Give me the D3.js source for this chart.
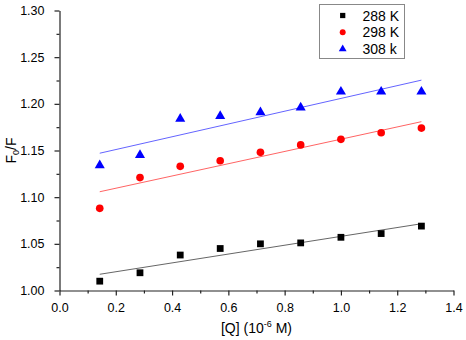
<!DOCTYPE html>
<html>
<head>
<meta charset="utf-8">
<script src="https://cdn.jsdelivr.net/npm/d3@7"></script>
<style>
  html, body { margin: 0; padding: 0; background: #fff; }
  svg { display: block; font-family: "Liberation Sans", Arial, sans-serif; }
</style>
</head>
<body>
<div id="chart"></div>
<script>
/* Stern-Volmer style plot: F0/F vs [Q] at three temperatures,
   points plus least-squares lines. */

var conc = [0.143, 0.286, 0.429, 0.571, 0.714, 0.857, 1.0, 1.143, 1.286];
var f288 = [1.010, 1.019, 1.038, 1.045, 1.050, 1.051, 1.057, 1.061, 1.069];
var f298 = [1.088, 1.121, 1.133, 1.139, 1.148, 1.156, 1.162, 1.169, 1.174];
var f308 = [1.134, 1.145, 1.184, 1.187, 1.191, 1.196, 1.213, 1.213, 1.213];
var seriesNames = ["288 K", "298 K", "308 k"];
var xTicks = [0.0, 0.2, 0.4, 0.6, 0.8, 1.0, 1.2, 1.4];
var yTicks = [1.00, 1.05, 1.10, 1.15, 1.20, 1.25, 1.30];

var W = 466, H = 340;
var svg = d3.select("#chart").append("svg")
  .attr("width", W).attr("height", H);

var x = d3.scaleLinear().domain([0, 1.4]).range([59.5, 453.5]);
var y = d3.scaleLinear().domain([1.0, 1.3]).range([290.5, 10.5]);

/* least squares fit, drawn over the data's x-range */
function fit(xs, ys) {
  var mx = d3.mean(xs), my = d3.mean(ys);
  var sxy = d3.sum(xs, function (v, i) { return (v - mx) * (ys[i] - my); });
  var sxx = d3.sum(xs, function (v) { return (v - mx) * (v - mx); });
  var b = sxy / sxx;
  return function (v) { return my + b * (v - mx); };
}

var series = [
  { name: seriesNames[0], vals: f288, color: "#000", line: "#666", sym: d3.symbolSquare, size: 46 },
  { name: seriesNames[1], vals: f298, color: "#ff0000", line: "#ff6464", sym: d3.symbolCircle, size: 46 },
  { name: seriesNames[2], vals: f308, color: "#0000ff", line: "#6464ff", sym: d3.symbolTriangle, size: 44 }
];

/* minor ticks */
svg.append("g")
  .attr("transform", "translate(0," + y.range()[0] + ")")
  .call(d3.axisBottom(x).tickValues(d3.range(0.1, 1.4, 0.2)).tickSize(3).tickFormat(""))
  .call(function (g) { g.select(".domain").remove(); });
svg.append("g")
  .attr("transform", "translate(" + x.range()[0] + ",0)")
  .call(d3.axisLeft(y).tickValues(d3.range(1.025, 1.3, 0.05)).tickSize(3).tickFormat(""))
  .call(function (g) { g.select(".domain").remove(); });

/* major axes */
var xAxis = svg.append("g")
  .attr("transform", "translate(0," + y.range()[0] + ")")
  .call(d3.axisBottom(x).tickValues(xTicks).tickSize(5).tickPadding(8).tickSizeOuter(0).tickFormat(d3.format(".1f")));
var yAxis = svg.append("g")
  .attr("transform", "translate(" + x.range()[0] + ",0)")
  .call(d3.axisLeft(y).tickValues(yTicks).tickSize(5).tickPadding(10).tickSizeOuter(0).tickFormat(d3.format(".2f")));

svg.selectAll(".tick line, .domain").attr("stroke", "#222").attr("stroke-width", 1.2);
[xAxis, yAxis].forEach(function (g) {
  g.selectAll("text")
    .attr("fill", "#000")
    .attr("font-size", 12.5)
    .attr("font-family", "'Liberation Sans', Arial, sans-serif");
});

/* fit lines */
series.forEach(function (s) {
  var f = fit(conc, s.vals);
  var x0 = conc[0], x1 = conc[conc.length - 1];
  svg.append("line")
    .attr("x1", x(x0)).attr("y1", y(f(x0)))
    .attr("x2", x(x1)).attr("y2", y(f(x1)))
    .attr("stroke", s.line).attr("stroke-width", 1);
});

/* points */
series.forEach(function (s) {
  svg.append("g").selectAll("path")
    .data(s.vals)
    .join("path")
    .attr("transform", function (d, i) { return "translate(" + x(conc[i]) + "," + y(d) + ")"; })
    .attr("d", d3.symbol().type(s.sym).size(s.size))
    .attr("fill", s.color);
});

/* axis titles */
var xt = svg.append("text")
  .attr("x", (x.range()[0] + x.range()[1]) / 2)
  .attr("y", 333)
  .attr("text-anchor", "middle")
  .attr("font-size", 14)
  .attr("fill", "#000");
xt.append("tspan").text("[Q] (10");
xt.append("tspan").attr("font-size", 9).attr("dy", -6).text("-6");
xt.append("tspan").attr("dy", 6).text(" M)");

var yt = svg.append("text")
  .attr("transform", "translate(16," + (y.range()[0] + y.range()[1]) / 2 + ") rotate(-90)")
  .attr("text-anchor", "middle")
  .attr("font-size", 14)
  .attr("fill", "#000");
yt.append("tspan").text("F");
yt.append("tspan").attr("font-size", 9).attr("dy", 3).text("0");
yt.append("tspan").attr("dy", -3).text("/F");

/* legend */
var lg = svg.append("g");
lg.append("rect")
  .attr("x", 319.5).attr("y", 4.5)
  .attr("width", 85).attr("height", 54)
  .attr("fill", "#fff").attr("stroke", "#888").attr("stroke-width", 1);
series.forEach(function (s, i) {
  var cy = 15.5 + i * 16.8;
  lg.append("path")
    .attr("transform", "translate(342.7," + cy + ")")
    .attr("d", d3.symbol().type(s.sym).size(s.size * 0.6))
    .attr("fill", s.color);
  lg.append("text")
    .attr("x", 362.5).attr("y", cy + 5)
    .attr("font-size", 14)
    .attr("fill", "#000")
    .text(s.name);
});
</script>
</body>
</html>
